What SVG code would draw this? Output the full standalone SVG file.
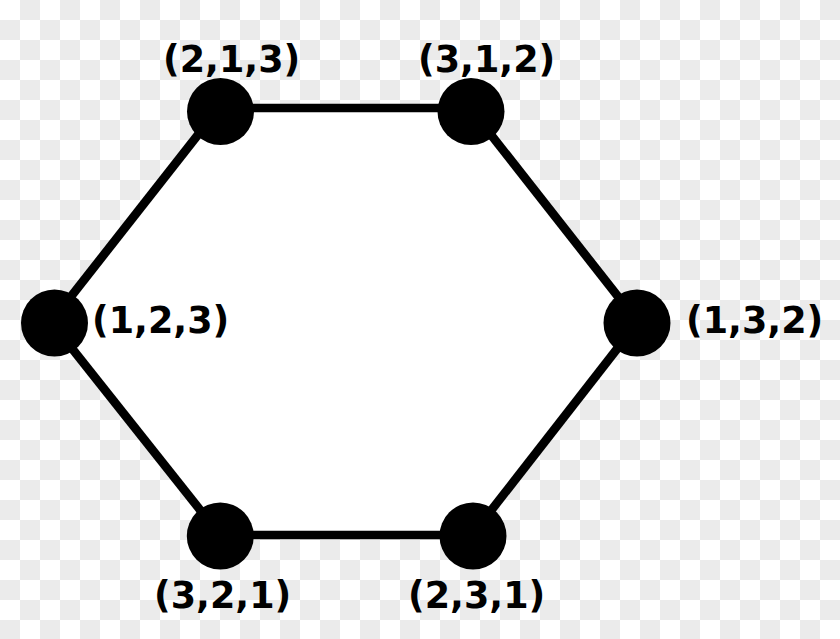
<svg xmlns="http://www.w3.org/2000/svg" width="840" height="639" viewBox="0 0 840 639">
<defs>
<pattern id="checker" width="40" height="40" patternUnits="userSpaceOnUse">
<rect width="40" height="40" fill="#ffffff"/>
<rect x="20" y="0" width="20" height="20" fill="#ebebeb"/>
<rect x="0" y="20" width="20" height="20" fill="#ebebeb"/>
</pattern>
</defs>
<style>
.edge{stroke:#000;stroke-width:8.7;fill:none}
.node{fill:#000}
.lbl{font-family:"DejaVu Sans","Verdana",sans-serif;font-weight:bold;font-size:36.5px;fill:#000}
</style>
<rect width="840" height="639" fill="url(#checker)"/>
<polygon points="219,108 470,108 638,322 472,535 220,535 51,322" fill="#ffffff"/>
<g id="connectors">
<line class="edge" x1="219" y1="108" x2="470" y2="108"/>
<line class="edge" x1="470" y1="108" x2="638" y2="322"/>
<line class="edge" x1="638" y1="322" x2="472" y2="535"/>
<line class="edge" x1="472" y1="535" x2="220" y2="535"/>
<line class="edge" x1="220" y1="535" x2="51" y2="322"/>
<line class="edge" x1="51" y1="322" x2="219" y2="108"/>
</g>
<g id="n213"><circle class="node" cx="220.5" cy="111.5" r="33.5"/><text class="lbl" x="163" y="72">(2,1,3)</text></g>
<g id="n312"><circle class="node" cx="471" cy="111.5" r="33.5"/><text class="lbl" x="418" y="72">(3,1,2)</text></g>
<g id="n123"><circle class="node" cx="54.5" cy="323" r="33.5"/><text class="lbl" x="92" y="333">(1,2,3)</text></g>
<g id="n132"><circle class="node" cx="637" cy="323" r="33.5"/><text class="lbl" x="686" y="333">(1,3,2)</text></g>
<g id="n321"><circle class="node" cx="220.3" cy="536" r="33.5"/><text class="lbl" x="154" y="608">(3,2,1)</text></g>
<g id="n231"><circle class="node" cx="473" cy="536" r="33.5"/><text class="lbl" x="408" y="608">(2,3,1)</text></g>
</svg>
